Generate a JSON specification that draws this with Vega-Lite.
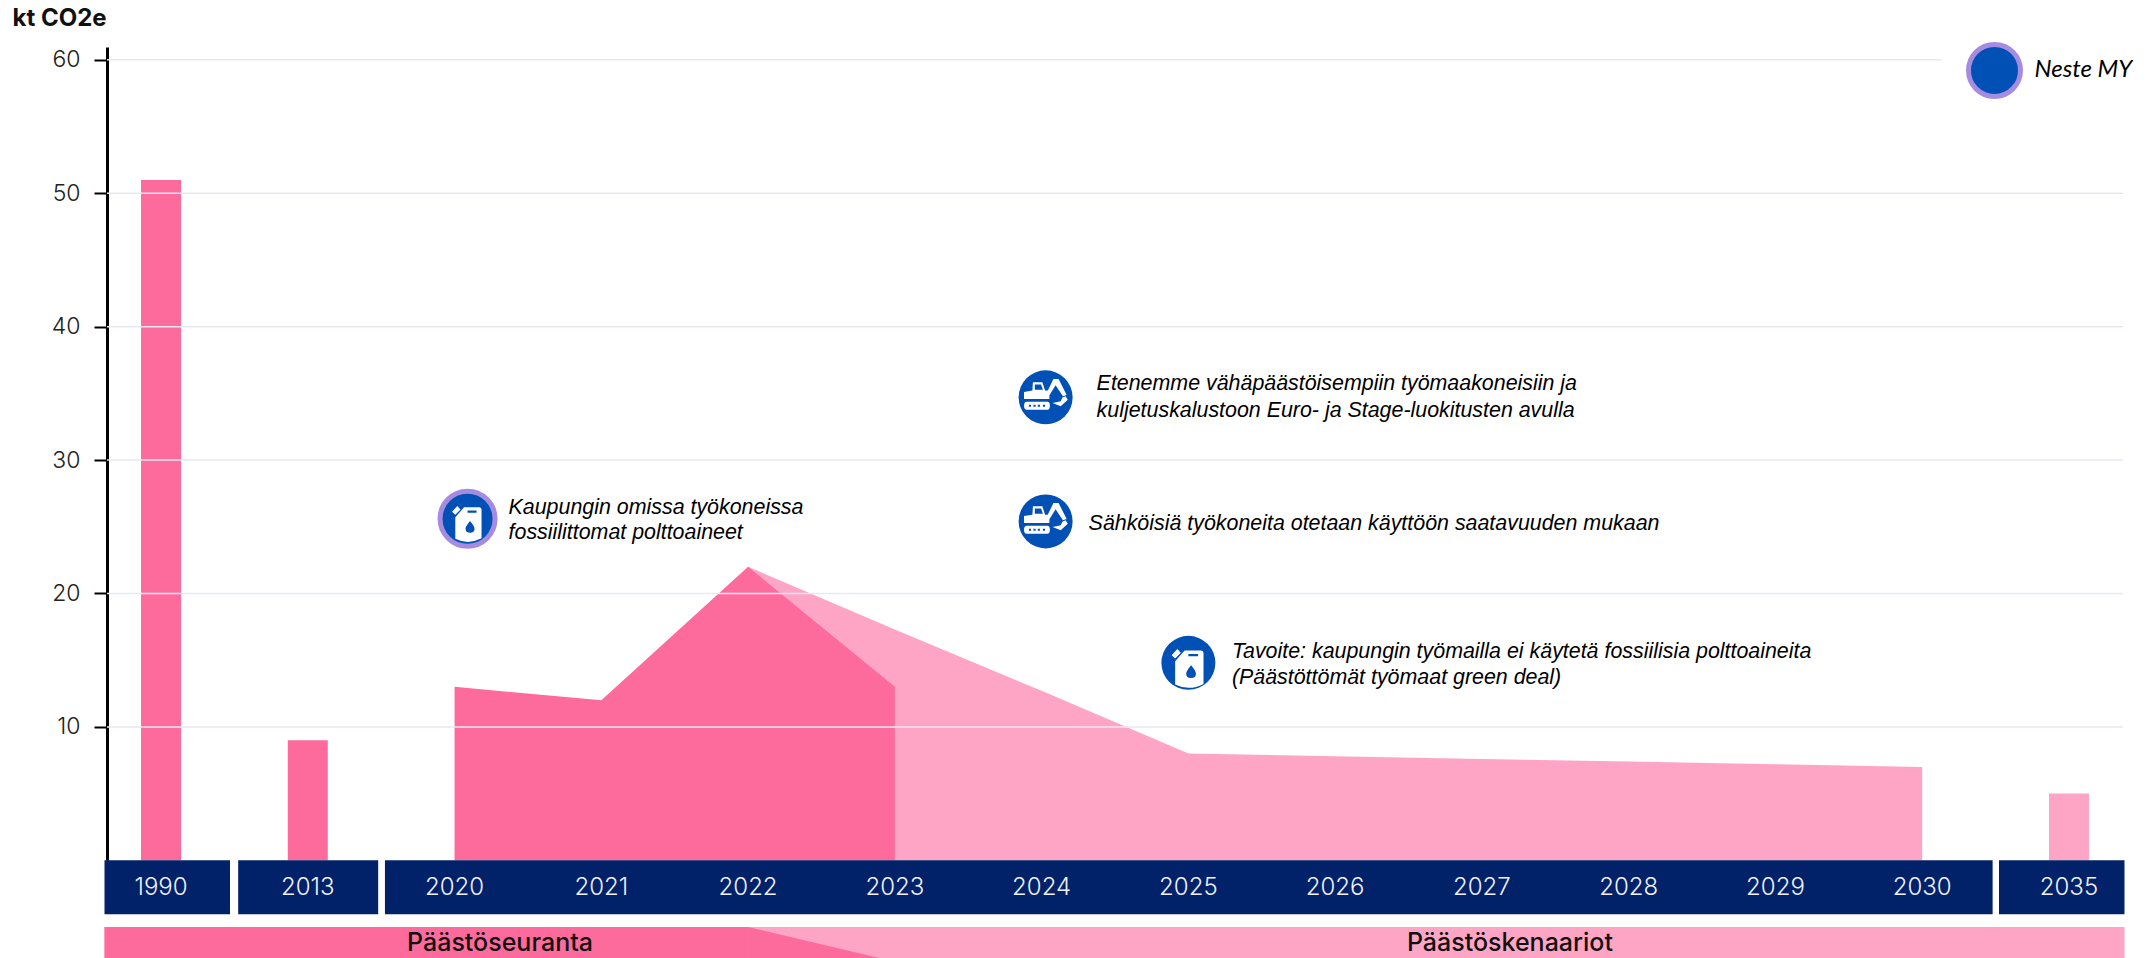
{
"$schema":"https://vega.github.io/schema/vega-lite/v6.json",
"autosize":{"type":"none"},
"padding":{"left":107,"top":47,"right":30,"bottom":0},
"width":2016,
"height":911,
"background":"#ffffff",
"config":{"view":{"stroke":null},"axisX":{"disable":true}},
"datasets":{
"emissions":[
{"year":"1990","kt":51,"kind":"history bar"},
{"year":"2013","kt":9,"kind":"history bar"},
{"year":"2020","kt":13,"kind":"history area"},
{"year":"2021","kt":12,"kind":"history area"},
{"year":"2022","kt":22,"kind":"history area"},
{"year":"2023","kt":13,"kind":"history area"},
{"year":"2022","kt":22,"kind":"scenario area"},
{"year":"2023","kt":17.3,"kind":"scenario area"},
{"year":"2024","kt":12.7,"kind":"scenario area"},
{"year":"2025","kt":8,"kind":"scenario area"},
{"year":"2026","kt":7.8,"kind":"scenario area"},
{"year":"2027","kt":7.6,"kind":"scenario area"},
{"year":"2028","kt":7.4,"kind":"scenario area"},
{"year":"2029","kt":7.2,"kind":"scenario area"},
{"year":"2030","kt":7,"kind":"scenario area"},
{"year":"2035","kt":5,"kind":"scenario bar"}
],
"years":[{"year":"1990"},{"year":"2013"},{"year":"2020"},{"year":"2021"},{"year":"2022"},{"year":"2023"},{"year":"2024"},{"year":"2025"},{"year":"2026"},{"year":"2027"},{"year":"2028"},{"year":"2029"},{"year":"2030"},{"year":"2035"}],
"notes":[
{"id":"n1","year":"2020","icon_at":25.6,"text_at":26.4,"note":"Kaupungin omissa työkoneissa\nfossiilittomat polttoaineet"},
{"id":"n2","year":"2024","icon_at":34.7,"text_at":35.7,"note":"Etenemme vähäpäästöisempiin työmaakoneisiin ja\nkuljetuskalustoon Euro- ja Stage-luokitusten avulla"},
{"id":"n3","year":"2024","icon_at":25.4,"text_at":25.2,"note":"Sähköisiä työkoneita otetaan käyttöön saatavuuden mukaan"},
{"id":"n4","year":"2025","icon_at":14.8,"text_at":15.65,"note":"Tavoite: kaupungin työmailla ei käytetä fossiilisia polttoaineita\n(Päästöttömät työmaat green deal)"}
]
},
"layer":[
{"data":{"name":"emissions"},"transform":[{"filter":"datum.kind==='scenario area'"}],
"mark":{"type":"area","color":"#fea5c6","interpolate":"linear"},
"encoding":{
"x":{"field":"year","type":"ordinal","scale":{"type":"point","padding":0.368,"domain":["1990","2013","2020","2021","2022","2023","2024","2025","2026","2027","2028","2029","2030","2035"]}},
"y":{"field":"kt","type":"quantitative","stack":null,"scale":{"domain":[0,60.96],"range":[813.3,0],"nice":false,"zero":false},
"axis":{"values":[10,20,30,40,50,60],"grid":false,"domain":true,"domainColor":"#000000","domainWidth":3,"tickColor":"#000000","tickSize":13,"tickWidth":2,"labelPadding":14,"labelFont":"Inter","labelFontSize":23,"labelFontWeight":300,"labelColor":"#222222","title":"kt CO2e","titleFont":"Inter","titleFontSize":24,"titleFontWeight":"bold","titleColor":"#111111","titleAngle":0,"titleAlign":"left","titleBaseline":"alphabetic","titleX":-95,"titleY":-22}}
}},
{"data":{"name":"emissions"},"transform":[{"filter":"datum.kind==='history area'"}],
"mark":{"type":"area","color":"#fd6b9c"},
"encoding":{"x":{"field":"year","type":"ordinal"},"y":{"field":"kt","type":"quantitative","stack":null}}},
{"data":{"name":"emissions"},"transform":[{"filter":"datum.kind==='history bar'"}],
"mark":{"type":"bar","color":"#fd6b9c","size":40},
"encoding":{"x":{"field":"year","type":"ordinal"},"y":{"field":"kt","type":"quantitative","stack":null}}},
{"data":{"name":"emissions"},"transform":[{"filter":"datum.kind==='scenario bar'"}],
"mark":{"type":"bar","color":"#fea5c6","size":40},
"encoding":{"x":{"field":"year","type":"ordinal"},"y":{"field":"kt","type":"quantitative","stack":null}}},
{"data":{"values":[{"tick":10},{"tick":20},{"tick":30},{"tick":40},{"tick":50}]},
"mark":{"type":"rule","color":"#e6e9f1","strokeWidth":1.5},
"encoding":{"y":{"field":"tick","type":"quantitative"}}},
{"data":{"values":[{"tick":60,"from":"1990","to":"2030"}]},
"mark":{"type":"rule","color":"#e6e9f1","strokeWidth":1.5,"xOffset":-54,"x2Offset":19},
"encoding":{"x":{"field":"from","type":"ordinal"},"x2":{"field":"to"},"y":{"field":"tick","type":"quantitative"}}},
{"data":{"values":[{"from":"1990","to":"1990"}]},
"mark":{"type":"rect","color":"#012169","xOffset":-56.5,"x2Offset":69},
"encoding":{"x":{"field":"from","type":"ordinal"},"x2":{"field":"to"},"y":{"datum":0},"y2":{"datum":-4.05}}},
{"data":{"values":[{"from":"2013","to":"2013"},{"from":"2020","to":"2030"}]},
"mark":{"type":"rect","color":"#012169","xOffset":-69.6,"x2Offset":70.4},
"encoding":{"x":{"field":"from","type":"ordinal"},"x2":{"field":"to"},"y":{"datum":0},"y2":{"datum":-4.05}}},
{"data":{"values":[{"from":"2035","to":"2035"}]},
"mark":{"type":"rect","color":"#012169","xOffset":-70,"x2Offset":55.5},
"encoding":{"x":{"field":"from","type":"ordinal"},"x2":{"field":"to"},"y":{"datum":0},"y2":{"datum":-4.05}}},
{"data":{"name":"years"},
"mark":{"type":"text","font":"Inter","fontSize":24,"fontWeight":300,"color":"#f0f0f5","align":"center","baseline":"middle"},
"encoding":{"x":{"field":"year","type":"ordinal"},"y":{"datum":-2.08},"text":{"field":"year"}}},
{"data":{"values":[{"from":"1990","to":"2035"}]},
"mark":{"type":"rect","color":"#fea5c6","xOffset":-56.5,"x2Offset":55.5},
"encoding":{"x":{"field":"from","type":"ordinal"},"x2":{"field":"to"},"y":{"datum":-5},"y2":{"datum":-7.6}}},
{"data":{"values":[{"from":"1990","to":"2022"}]},
"mark":{"type":"rect","color":"#fd6b9c","xOffset":-56.5},
"encoding":{"x":{"field":"from","type":"ordinal"},"x2":{"field":"to"},"y":{"datum":-5},"y2":{"datum":-7.6}}},
{"data":{"values":[{"year":"2022","edge":-5},{"year":"2023","edge":-7.6}]},
"mark":{"type":"area","color":"#fd6b9c"},
"encoding":{"x":{"field":"year","type":"ordinal"},"y":{"field":"edge","type":"quantitative","stack":null},"y2":{"datum":-7.6}}},
{"data":{"values":[{"year":"2020","phase":"Päästöseuranta"}]},
"mark":{"type":"text","font":"Inter","fontSize":25,"fontWeight":500,"color":"#111111","align":"center","baseline":"middle","dx":45.5},
"encoding":{"x":{"field":"year","type":"ordinal"},"y":{"datum":-6.2},"text":{"field":"phase"}}},
{"data":{"values":[{"year":"2027","phase":"Päästöskenaariot"}]},
"mark":{"type":"text","font":"Inter","fontSize":25,"fontWeight":500,"color":"#111111","align":"center","baseline":"middle","dx":28},
"encoding":{"x":{"field":"year","type":"ordinal"},"y":{"datum":-6.2},"text":{"field":"phase"}}},
{"data":{"name":"notes"},"transform":[{"filter":"datum.id==='n1'"}],
"mark":{"type":"point","filled":true,"fill":"#0050b5","stroke":"#a58ce0","strokeWidth":5,"opacity":1,"size":3025,"shape":"circle","xOffset":13},
"encoding":{"x":{"field":"year","type":"ordinal"},"y":{"field":"icon_at","type":"quantitative"}}},
{"data":{"name":"notes"},"transform":[{"filter":"datum.id==='n2'||datum.id==='n3'"}],
"mark":{"type":"point","filled":true,"fill":"#0050b5","opacity":1,"size":2916,"shape":"circle","xOffset":4},
"encoding":{"x":{"field":"year","type":"ordinal"},"y":{"field":"icon_at","type":"quantitative"}}},
{"data":{"name":"notes"},"transform":[{"filter":"datum.id==='n4'"}],
"mark":{"type":"point","filled":true,"fill":"#0050b5","opacity":1,"size":2916,"shape":"circle"},
"encoding":{"x":{"field":"year","type":"ordinal"},"y":{"field":"icon_at","type":"quantitative"}}},
{"data":{"name":"notes"},"transform":[{"filter":"datum.id==='n2'||datum.id==='n3'"}],
"mark":{"type":"point","filled":true,"fill":"#ffffff","opacity":1,"size":2916,"xOffset":4,"shape":"M-.8 .06L-.8 -.2L-.49 -.25L-.47 -.56L-.12 -.56L-.02 -.25L.14 -.25L.14 .06ZM-.40 -.48L-.40 -.28L-.10 -.28L-.17 -.48ZM-.7 .16L.06 .16Q.16 .16 .16 .31Q.16 .46 .06 .46L-.7 .46Q-.8 .46 -.8 .31Q-.8 .16 -.7 .16ZM-.62 .27L-.62 .35L-.54 .35L-.54 .27ZM-.45 .27L-.45 .35L-.37 .35L-.37 .27ZM-.29 .27L-.29 .35L-.21 .35L-.21 .27ZM-.10 .27L-.10 .35L-.02 .35L-.02 .27ZM.04 -.17L.29 -.68L.48 -.68L.78 -.09L.64 -.04L.37 -.45L.14 -.08ZM.74 -.04L.82 .09L.56 .33L.26 .21L.56 .14L.62 .01Z"},
"encoding":{"x":{"field":"year","type":"ordinal"},"y":{"field":"icon_at","type":"quantitative"}}},
{"data":{"name":"notes"},"transform":[{"filter":"datum.id==='n1'"}],
"mark":{"type":"point","filled":true,"fill":"#ffffff","opacity":1,"size":2500,"xOffset":13,"shape":"M-.49 -.06L-.14 -.46L.46 -.46Q.56 -.46 .56 -.36L.56 .78Q.03 1.06 -.49 .8ZM0 -.33L0 -.24L.36 -.24L.36 -.33ZM-.62 -.28L-.41 -.51L-.28 -.37L-.49 -.16ZM.10 .09Q-.08 .3 -.08 .4Q-.08 .56 .10 .56Q.28 .56 .28 .4Q.28 .3 .10 .09Z"},
"encoding":{"x":{"field":"year","type":"ordinal"},"y":{"field":"icon_at","type":"quantitative"}}},
{"data":{"name":"notes"},"transform":[{"filter":"datum.id==='n4'"}],
"mark":{"type":"point","filled":true,"fill":"#ffffff","opacity":1,"size":2916,"shape":"M-.49 -.06L-.14 -.46L.46 -.46Q.56 -.46 .56 -.36L.56 .78Q.03 1.06 -.49 .8ZM0 -.33L0 -.24L.36 -.24L.36 -.33ZM-.62 -.28L-.41 -.51L-.28 -.37L-.49 -.16ZM.10 .09Q-.08 .3 -.08 .4Q-.08 .56 .10 .56Q.28 .56 .28 .4Q.28 .3 .10 .09Z"},
"encoding":{"x":{"field":"year","type":"ordinal"},"y":{"field":"icon_at","type":"quantitative"}}},
{"data":{"name":"notes"},"transform":[{"filter":"datum.id==='n1'"}],
"mark":{"type":"text","font":"Liberation Sans","fontStyle":"italic","fontSize":21.4,"color":"#000000","align":"left","baseline":"middle","lineBreak":"\n","lineHeight":25,"dx":54},
"encoding":{"x":{"field":"year","type":"ordinal"},"y":{"field":"text_at","type":"quantitative"},"text":{"field":"note"}}},
{"data":{"name":"notes"},"transform":[{"filter":"datum.id==='n2'"}],
"mark":{"type":"text","font":"Liberation Sans","fontStyle":"italic","fontSize":21.4,"color":"#000000","align":"left","baseline":"middle","lineBreak":"\n","lineHeight":27,"dx":55},
"encoding":{"x":{"field":"year","type":"ordinal"},"y":{"field":"text_at","type":"quantitative"},"text":{"field":"note"}}},
{"data":{"name":"notes"},"transform":[{"filter":"datum.id==='n3'"}],
"mark":{"type":"text","font":"Liberation Sans","fontStyle":"italic","fontSize":21.4,"color":"#000000","align":"left","baseline":"middle","dx":47},
"encoding":{"x":{"field":"year","type":"ordinal"},"y":{"field":"text_at","type":"quantitative"},"text":{"field":"note"}}},
{"data":{"name":"notes"},"transform":[{"filter":"datum.id==='n4'"}],
"mark":{"type":"text","font":"Liberation Sans","fontStyle":"italic","fontSize":21.4,"color":"#000000","align":"left","baseline":"middle","lineBreak":"\n","lineHeight":26,"dx":43.5},
"encoding":{"x":{"field":"year","type":"ordinal"},"y":{"field":"text_at","type":"quantitative"},"text":{"field":"note"}}},
{"data":{"values":[{"year":"2035","level":59.2,"name":"Neste MY"}]},
"mark":{"type":"point","filled":true,"fill":"#0050b5","stroke":"#a58ce0","strokeWidth":5,"opacity":1,"size":2704,"shape":"circle","xOffset":-74.5},
"encoding":{"x":{"field":"year","type":"ordinal"},"y":{"field":"level","type":"quantitative"}}},
{"data":{"values":[{"year":"2035","level":59.2,"name":"Neste MY"}]},
"mark":{"type":"text","font":"Lato","fontStyle":"italic","fontSize":24,"color":"#000000","align":"left","baseline":"middle","dx":-34.5},
"encoding":{"x":{"field":"year","type":"ordinal"},"y":{"field":"level","type":"quantitative"},"text":{"field":"name"}}}
]
}
